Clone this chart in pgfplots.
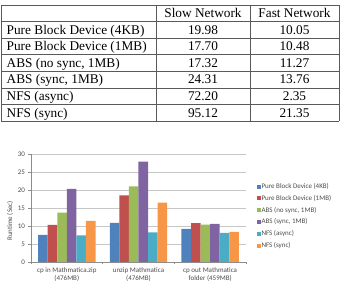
\documentclass[border=0pt]{standalone}
\usepackage{fontspec}
\setmainfont{Liberation Serif}
\newfontfamily\calibri{Carlito}
\usepackage{pgfplots}
\pgfplotsset{compat=1.18}
\definecolor{c1}{HTML}{4F81BD}
\definecolor{c2}{HTML}{C0504D}
\definecolor{c3}{HTML}{9BBB59}
\definecolor{c4}{HTML}{8064A2}
\definecolor{c5}{HTML}{4BACC6}
\definecolor{c6}{HTML}{F79646}
\begin{document}
\begin{tikzpicture}
\path[use as bounding box] (0pt,0pt) rectangle (341pt,-283pt);
% ---- table ----
\begin{scope}[black!65, line width=0.7pt]
\foreach \y in {5.5,21.5,38.1,54.7,71.3,87.9,104.5,121.1} \draw (1pt,-\y pt) -- (339pt,-\y pt);
\foreach \x in {1,156,250,339} \draw (\x pt,-5.5pt) -- (\x pt,-121.1pt);
\end{scope}
\begin{scope}[every node/.style={inner sep=0pt, font=\fontsize{13.3}{15}\selectfont, text=black}]
\node[anchor=base] at (203pt,-17.9pt) {Slow Network};
\node[anchor=base] at (294.5pt,-17.9pt) {Fast Network};
\foreach \r/\lab/\a/\b in {1/Pure Block Device (4KB)/19.98/10.05,
                             2/Pure Block Device (1MB)/17.70/10.48,
                             3/{ABS (no sync, 1MB)}/17.32/11.27,
                             4/{ABS (sync, 1MB)}/24.31/13.76,
                             5/NFS (async)/72.20/2.35,
                             6/NFS (sync)/95.12/21.35}{
  \pgfmathsetmacro{\yy}{-(21.5+16.6*\r-8.3+4.4)}
  \node[anchor=base west] at (6.5pt,\yy pt) {\lab};
  \node[anchor=base] at (203pt,\yy pt) {\a};
  \node[anchor=base] at (294.5pt,\yy pt) {\b};
}
\end{scope}
% ---- chart ----
\begin{axis}[at={(31pt,-262pt)}, anchor=south west, scale only axis,
  width=215pt, height=108pt,
  ybar=0pt, bar width=9.57pt,
  xmin=-0.5, xmax=2.5, ymin=0, ymax=30,
  xtick={-0.5,0.5,1.5,2.5},
  x tick label as interval,
  xticklabels={{cp in Mathmatica.zip\\(476MB)},{unzip Mathmatica\\(476MB)},{cp out Mathmatica\\folder (459MB)}},
  ytick={0,5,...,30},
  ymajorgrids, grid style={black!22, line width=0.6pt},
  axis lines*=left,
  axis line style={-, black!45, line width=0.6pt},
  tick style={black!45, line width=0.6pt},
  tick align=outside, major tick length=2.5pt,
  /pgf/number format/assume math mode=true,
  tick label style={font=\calibri\fontsize{7}{7.5}\selectfont, text=black!70},
  xticklabel style={align=center},
  ylabel={Runtime (Sec)},
  ylabel style={at={(axis description cs:-0.0977,0.38)}, anchor=center, font=\calibri\fontsize{7}{8}\selectfont, text=black!70},
  legend style={at={(axis description cs:1.048,0.74)}, anchor=north west, draw=none, fill=none,
    font=\calibri\fontsize{7}{8}\selectfont, text=black!70, inner sep=0pt,
    row sep=3.4pt, column sep=0pt,
    nodes={inner sep=1pt, text height=5pt, text depth=1.5pt}},
  legend cell align=left,
  legend image code/.code={\fill[#1] (0pt,-2pt) rectangle (4pt,2pt);},
]
\addplot[fill=c1, draw=none] coordinates {(0,7.5) (1,10.9) (2,9.2)};
\addplot[fill=c2, draw=none] coordinates {(0,10.3) (1,18.5) (2,10.8)};
\addplot[fill=c3, draw=none] coordinates {(0,13.7) (1,21.0) (2,10.4)};
\addplot[fill=c4, draw=none] coordinates {(0,20.3) (1,27.9) (2,10.6)};
\addplot[fill=c5, draw=none] coordinates {(0,7.4) (1,8.2) (2,8.1)};
\addplot[fill=c6, draw=none] coordinates {(0,11.4) (1,16.5) (2,8.4)};
\legend{Pure Block Device (4KB),Pure Block Device (1MB),{ABS (no sync, 1MB)},{ABS (sync, 1MB)},NFS (async),NFS (sync)}
\end{axis}
\end{tikzpicture}
\end{document}
